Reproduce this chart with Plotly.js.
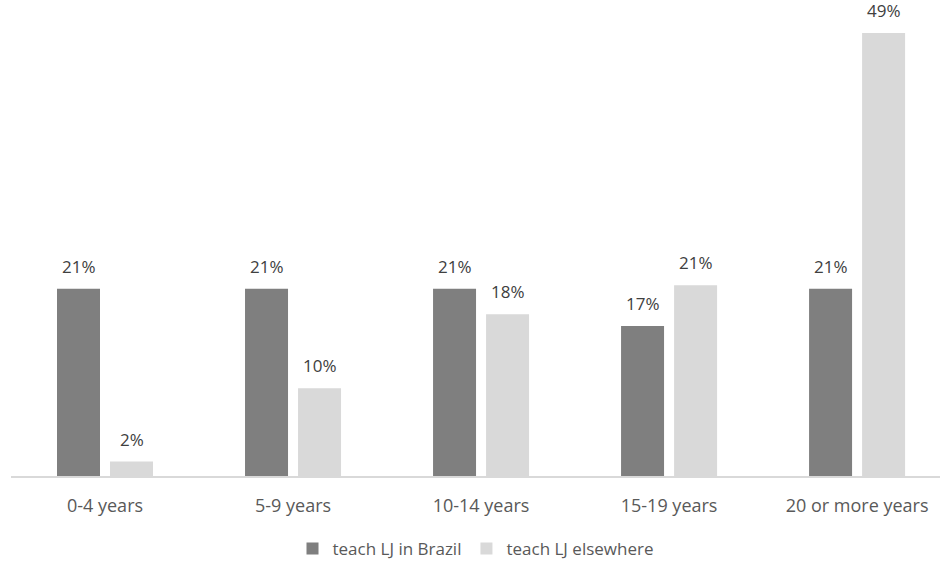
<!DOCTYPE html>
<html>
<head>
<meta charset="utf-8">
<script src="https://cdn.plot.ly/plotly-3.0.1.min.js"></script>
<style>html,body{margin:0;padding:0;background:#fff;}#chart{width:940px;height:562px;}</style>
</head>
<body>
<div id="chart"></div>
<script>
const categories = ["0-4 years", "5-9 years", "10-14 years", "15-19 years", "20 or more years"];
const seriesNames = ["teach LJ in Brazil", "teach LJ elsewhere"];
const brazilValues = [20.7, 20.7, 20.7, 16.6, 20.7];
const elsewhereValues = [1.6, 9.7, 17.9, 21.1, 49.0];
const brazilColor = "#7f7f7f";
const elsewhereColor = "#d9d9d9";

const font = "'Open Sans', sans-serif";

const traces = [
  {type: "bar", name: seriesNames[0], x: categories, y: brazilValues,
   marker: {color: brazilColor}, hoverinfo: "skip"},
  {type: "bar", name: seriesNames[1], x: categories, y: elsewhereValues,
   marker: {color: elsewhereColor}, hoverinfo: "skip"}
];

const annotations = [];
[brazilValues, elsewhereValues].forEach((vals, s) => {
  vals.forEach((v, i) => {
    annotations.push({
      x: categories[i], y: v, xref: "x", yref: "y",
      text: Math.round(v) + "%", showarrow: false,
      xanchor: "center", yanchor: "bottom", borderpad: 0,
      xshift: s === 0 ? -26.5 : 26.5, yshift: 10,
      font: {family: font, size: 17, color: "#404040"}
    });
  });
});

const layout = {
  width: 940, height: 562,
  margin: {l: 11, r: 0, t: 12, b: 86, autoexpand: false},
  paper_bgcolor: "#ffffff", plot_bgcolor: "#ffffff",
  barmode: "group", bargap: 0.436, bargroupgap: 0.189,
  font: {family: font, color: "#595959", size: 18},
  xaxis: {
    type: "category", range: [-0.5, 4.441],
    showline: true, linecolor: "#d9d9d9", linewidth: 2,
    ticks: "outside", ticklen: 12, tickcolor: "rgba(0,0,0,0)",
    showgrid: false, zeroline: false, automargin: false,
    tickfont: {family: font, size: 18, color: "#595959"}
  },
  yaxis: {range: [0, 51.32], visible: false, showgrid: false, zeroline: false, fixedrange: true},
  showlegend: true,
  legend: {orientation: "h", x: 0.5, xanchor: "center", xref: "paper",
           y: 0.023, yref: "container", yanchor: "middle",
           font: {family: font, size: 17, color: "#595959"}, itemclick: false, traceorder: "normal"},
  annotations: annotations
};

Plotly.newPlot("chart", traces, layout, {displayModeBar: false, staticPlot: true});
</script>
</body>
</html>
